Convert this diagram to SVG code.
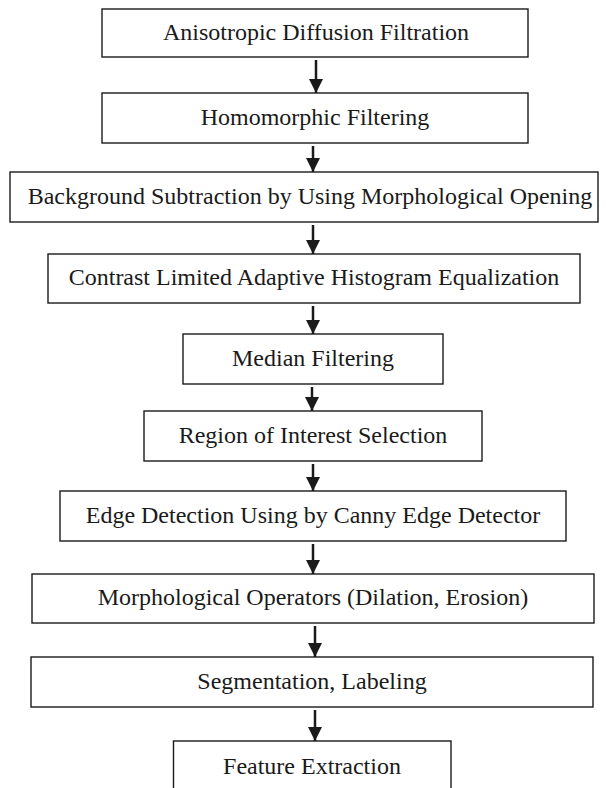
<svg xmlns="http://www.w3.org/2000/svg" width="606" height="788" viewBox="0 0 606 788">
<style>
.box{fill:#fff;stroke:#1a1a1a;stroke-width:1.4}
.lbl{font-family:"Liberation Serif","Times New Roman",serif;font-size:24px;fill:#1a1a1a;text-anchor:middle}
.conn{stroke:#1a1a1a;stroke-width:2.5;fill:none}
</style>
<defs>
<marker id="ah" viewBox="0 0 14 14" refX="14" refY="7" markerWidth="14" markerHeight="14" markerUnits="userSpaceOnUse" orient="auto">
<path d="M0,0 L14,7 L0,14 Z" fill="#1a1a1a"/>
</marker>
</defs>
<rect width="606" height="788" fill="#fff"/>
<g id="connectors">
<line class="conn" x1="316" y1="60" x2="316" y2="93" marker-end="url(#ah)"/>
<line class="conn" x1="313" y1="146" x2="313" y2="172" marker-end="url(#ah)"/>
<line class="conn" x1="313" y1="225" x2="313" y2="254" marker-end="url(#ah)"/>
<line class="conn" x1="313" y1="306" x2="313" y2="334" marker-end="url(#ah)"/>
<line class="conn" x1="312" y1="387" x2="312" y2="411" marker-end="url(#ah)"/>
<line class="conn" x1="313" y1="464" x2="313" y2="491" marker-end="url(#ah)"/>
<line class="conn" x1="313" y1="544" x2="313" y2="574" marker-end="url(#ah)"/>
<line class="conn" x1="315" y1="626" x2="315" y2="657" marker-end="url(#ah)"/>
<line class="conn" x1="315" y1="710" x2="315" y2="741" marker-end="url(#ah)"/>
</g>
<g id="n1"><rect class="box" x="102" y="9" width="426" height="48"/><text class="lbl" x="316" y="40">Anisotropic Diffusion Filtration</text></g>
<g id="n2"><rect class="box" x="102" y="93" width="426" height="50"/><text class="lbl" x="315" y="125">Homomorphic Filtering</text></g>
<g id="n3"><rect class="box" x="10" y="172" width="588" height="50"/><text class="lbl" x="310" y="203.5">Background Subtraction by Using Morphological Opening</text></g>
<g id="n4"><rect class="box" x="48" y="254" width="532" height="49"/><text class="lbl" x="314" y="285">Contrast Limited Adaptive Histogram Equalization</text></g>
<g id="n5"><rect class="box" x="183" y="334" width="260" height="50"/><text class="lbl" x="313" y="366">Median Filtering</text></g>
<g id="n6"><rect class="box" x="144" y="411" width="338" height="50"/><text class="lbl" x="313" y="443">Region of Interest Selection</text></g>
<g id="n7"><rect class="box" x="60" y="491" width="506" height="50"/><text class="lbl" x="313" y="523">Edge Detection Using by Canny Edge Detector</text></g>
<g id="n8"><rect class="box" x="32" y="574" width="562" height="49"/><text class="lbl" x="313" y="605">Morphological Operators (Dilation, Erosion)</text></g>
<g id="n9"><rect class="box" x="31" y="657" width="562" height="50"/><text class="lbl" x="312" y="689">Segmentation, Labeling</text></g>
<g id="n10"><rect class="box" x="173.5" y="741" width="277.5" height="52"/><text class="lbl" x="312" y="773.5">Feature Extraction</text></g>
</svg>
